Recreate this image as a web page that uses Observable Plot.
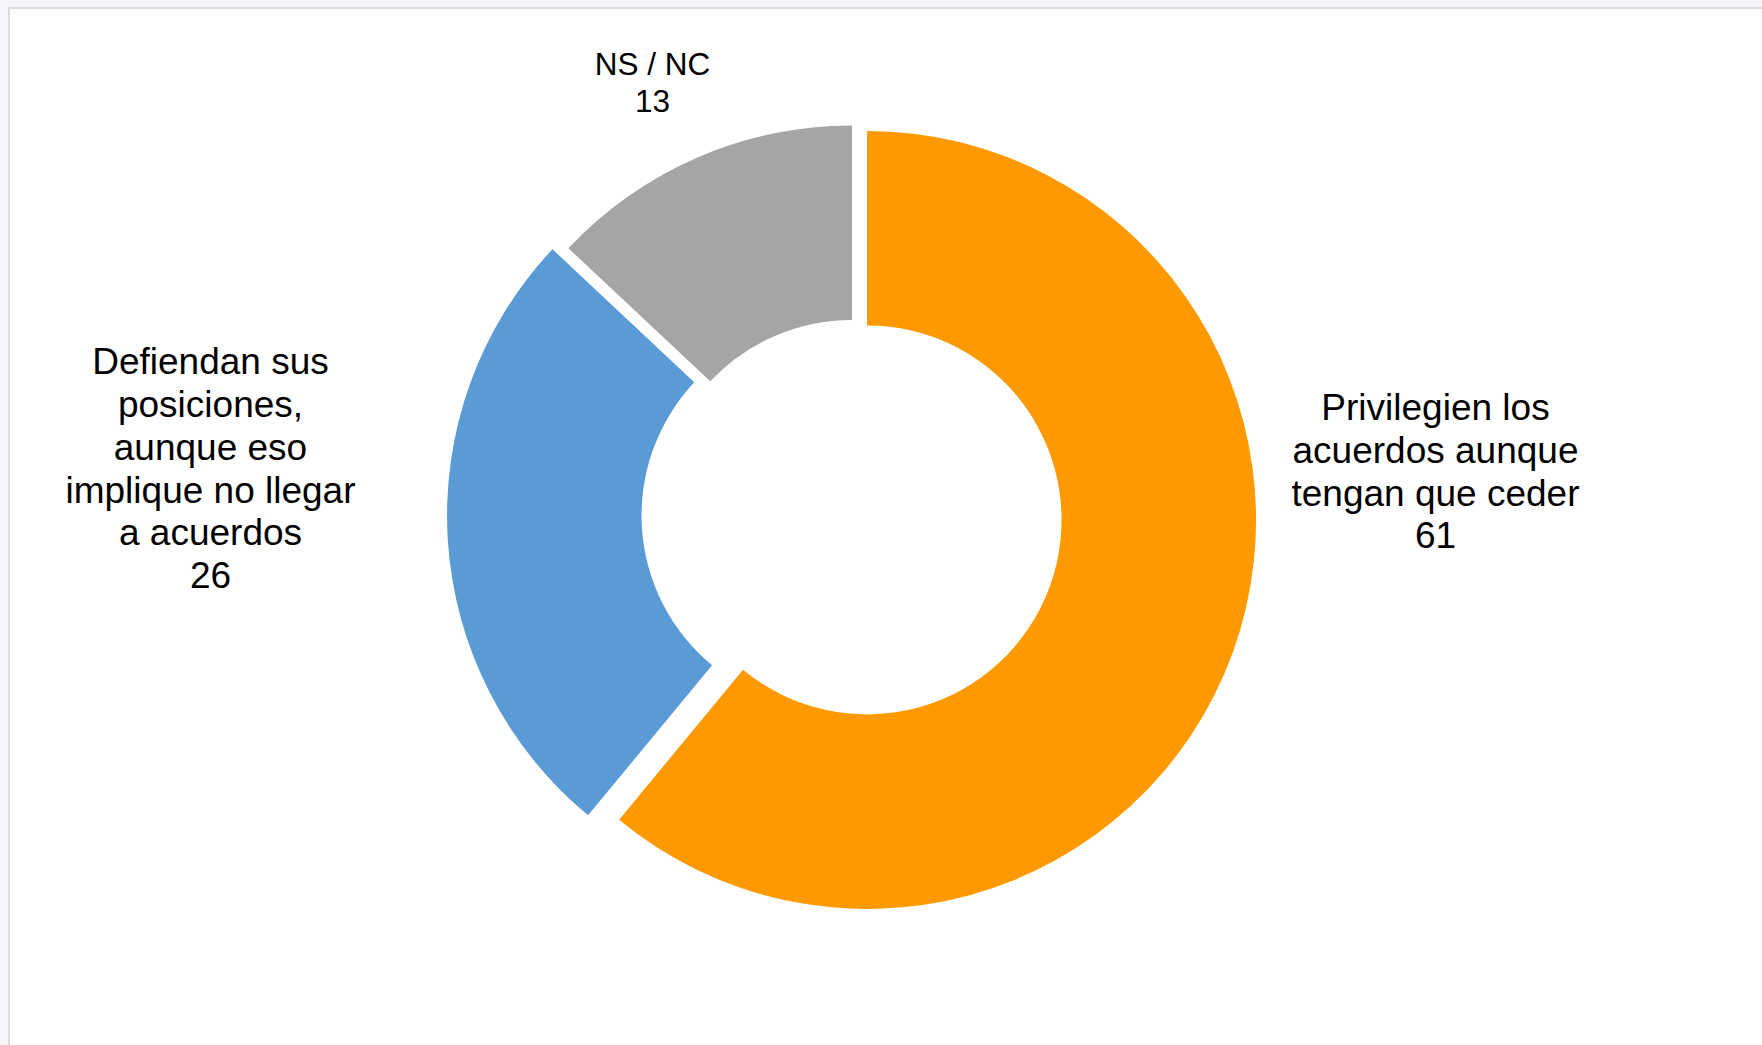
<!DOCTYPE html>
<html><head><meta charset="utf-8">
<script src="https://cdn.jsdelivr.net/npm/d3@7"></script>
<script src="https://cdn.jsdelivr.net/npm/@observablehq/plot@0.6"></script>
<style>
html,body{margin:0;padding:0;background:#f4f5f9;width:1762px;height:1045px;overflow:hidden;}
#frame{position:absolute;left:8px;top:7px;width:1800px;height:1100px;background:#fff;border:2px solid #dcdcdc;box-sizing:border-box}
#chart{position:absolute;left:0;top:0}
</style></head><body><div id="frame"></div><div id="chart"></div>
<script>
// ---- data ----
const categories = [
  "Privilegien los acuerdos aunque tengan que ceder",
  "Defiendan sus posiciones, aunque eso implique no llegar a acuerdos",
  "NS / NC"
];
const values = [61, 26, 13];
const labelLines = [
  ["Privilegien los", "acuerdos aunque", "tengan que ceder"],
  ["Defiendan sus", "posiciones,", "aunque eso", "implique no llegar", "a acuerdos"],
  ["NS / NC"]
];

// ---- styles / layout ----
const colors = ["#ff9900", "#5b9bd5", "#a5a5a5"];
const explode = [16, 16, 0];
const W = 1762, H = 1045;
const center = {x: 852, y: 514.5};
const outerR = 389, innerR = 194.5;
const labelAt = [ {x: 1435, y: 470}, {x: 210, y: 467}, {x: 652, y: 81} ];
const labelSize = [37, 37, 31.5];

const data = categories.map((c, i) => ({category: c, value: values[i], lines: labelLines[i]}));
const pie = d3.pie().sort(null).value(d => d.value)(data);
const color = d3.scaleOrdinal(categories, colors);

function donut(index, scales) {
  const g = d3.create("svg:g");
  const arc = d3.arc().innerRadius(innerR).outerRadius(outerR);
  const cx = scales.x(center.x), cy = scales.y(center.y);
  pie.forEach((p, i) => {
    const mid = (p.startAngle + p.endAngle) / 2;
    const dx = Math.sin(mid) * explode[i], dy = -Math.cos(mid) * explode[i];
    g.append("path")
      .attr("d", arc(p))
      .attr("transform", `translate(${cx + dx},${cy + dy})`)
      .attr("fill", color(p.data.category));
  });
  return g.node();
}

const labels = data.map((d, i) => ({
  text: d.lines.concat([String(d.value)]).join("\n"),
  x: labelAt[i].x, y: labelAt[i].y, size: labelSize[i]
}));

const chart = Plot.plot({
  width: W, height: H, margin: 0,
  style: {background: "transparent", fontFamily: "'Liberation Sans', Arial, sans-serif"},
  x: {domain: [0, W], range: [0, W], axis: null},
  y: {domain: [0, H], range: [0, H], axis: null},
  marks: [
    donut,
    Plot.text(labels.filter(d => d.size > 35), {x: "x", y: "y", text: "text", fontSize: 37, lineHeight: 1.155, fill: "#000", textAnchor: "middle"}),
    Plot.text(labels.filter(d => d.size <= 35), {x: "x", y: "y", text: "text", fontSize: 31.5, lineHeight: 1.2, fill: "#000", textAnchor: "middle"})
  ]
});
document.getElementById("chart").appendChild(chart);
</script></body></html>
